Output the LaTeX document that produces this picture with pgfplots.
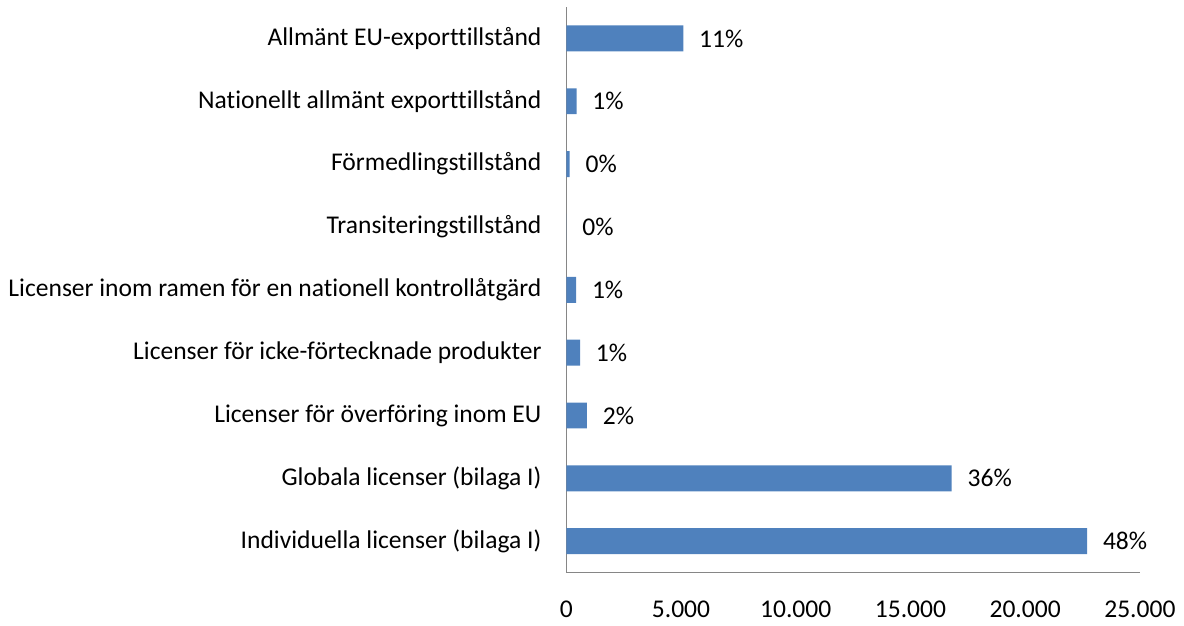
\documentclass[border=0pt]{standalone}
\usepackage{pgfplots}
\pgfplotsset{compat=1.18}
\usepackage{fontspec}
\setmainfont[Ligatures=NoCommon]{Carlito}
\definecolor{barblue}{HTML}{4F81BD}
\definecolor{axisgray}{HTML}{868686}
\begin{document}
\fontsize{12.8}{15}\selectfont
\begin{tikzpicture}
\begin{axis}[
    xbar,
    scale only axis,
    width=287.5pt,
    height=283.5pt,
    bar width=13pt,
    xmin=0, xmax=25000,
    ymin=-0.5, ymax=8.5,
    xtick={0,5000,10000,15000,20000,25000},
    scaled x ticks=false,
    /pgf/number format/.cd, 1000 sep={.}, assume math mode=true,
    /pgfplots/.cd,
    ytick={0,...,8},
    yticklabels={
        Individuella licenser (bilaga I),
        Globala licenser (bilaga I),
        Licenser för överföring inom EU,
        Licenser för icke-förtecknade produkter,
        Licenser inom ramen för en nationell kontrollåtgärd,
        Transiteringstillstånd,
        Förmedlingstillstånd,
        Nationellt allmänt exporttillstånd,
        Allmänt EU-exporttillstånd
    },
    axis x line*=bottom,
    axis y line*=left,
    axis line style={axisgray, -},
    major tick length=0pt,
    yticklabel style={xshift=-8pt},
    xticklabel style={yshift=-9.5pt},
    point meta=explicit symbolic,
    nodes near coords,
    nodes near coords align={horizontal},
    every node near coord/.append style={anchor=west, xshift=3.5pt, black},
]
\addplot[fill=barblue, draw=none] coordinates {
    (22700,0) [48\%]
    (16800,1) [36\%]
    (900,2) [2\%]
    (600,3) [1\%]
    (430,4) [1\%]
    (10,5) [0\%]
    (150,6) [0\%]
    (450,7) [1\%]
    (5100,8) [11\%]
};
\end{axis}
\path (current axis.north east) ++(22pt,3.5pt);
\end{tikzpicture}
\end{document}
